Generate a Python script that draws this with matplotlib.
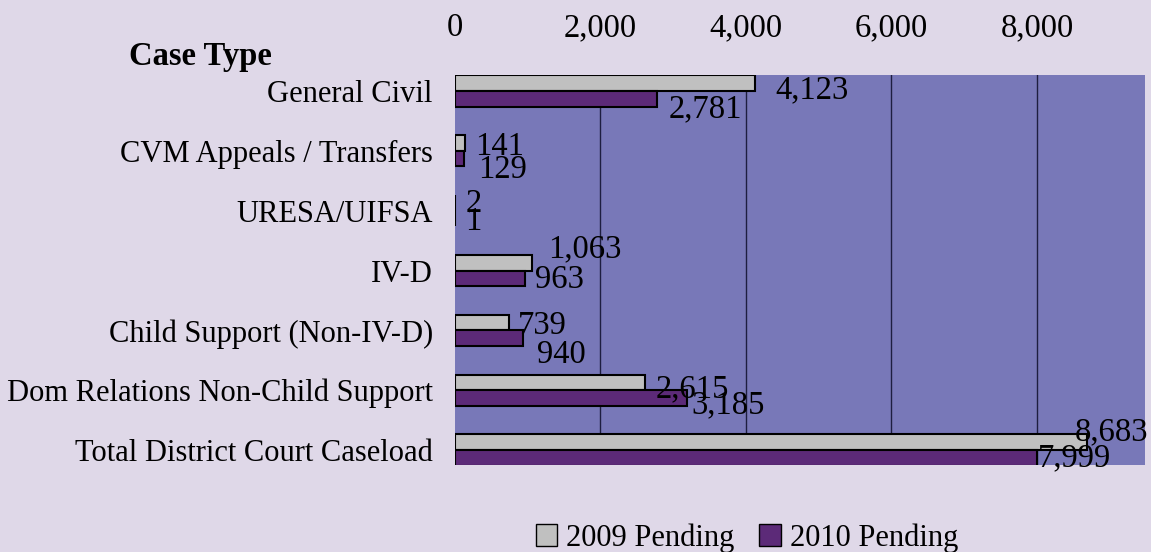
import matplotlib
matplotlib.use("Agg")
import matplotlib.pyplot as plt
from matplotlib.patches import Patch
import numpy as np

categories = ["General Civil", "CVM Appeals / Transfers", "URESA/UIFSA", "IV-D",
              "Child Support (Non-IV-D)", "Dom Relations Non-Child Support",
              "Total District Court Caseload"]
pending_2009 = [4123, 141, 2, 1063, 739, 2615, 8683]
pending_2010 = [2781, 129, 1, 963, 940, 3185, 7999]
series_names = ["2009 Pending", "2010 Pending"]
x_ticks = [0, 2000, 4000, 6000, 8000]

# label offsets (pixels: dx right, dy down) -- styling only
off_2009 = [(20, 3), (10, 0), (10, -3), (16, -17), (9, 0), (10, 3), (-12, -14)]
off_2010 = [(11, 7), (14, 8), (10, 0), (10, -2), (14, 13), (5, 4), (1, -3)]

plt.rcParams['font.family'] = ['Liberation Serif', 'DejaVu Serif']
FS_NUM = 23.5
FS_CAT = 22

BG = '#DFD8E8'
PLOT_BG = '#7878B8'
GRAY = '#C0C0C0'
PURPLE = '#5C2A78'

fig = plt.figure(figsize=(11.51, 5.52), dpi=100, facecolor=BG)
ax = fig.add_axes([455/1151, 1-465/552, 690/1151, 390/552])
ax.set_facecolor(PLOT_BG)

y = np.arange(len(categories))
h = 0.26
ax.barh(y - h/2, pending_2009, height=h, color=GRAY, edgecolor='black', linewidth=1.5, zorder=3)
ax.barh(y + h/2, pending_2010, height=h, color=PURPLE, edgecolor='black', linewidth=1.5, zorder=3)

for i, v in enumerate(pending_2009):
    dx, dy = off_2009[i]
    ax.annotate(f"{v:,}", xy=(v, y[i] - h/2), xytext=(dx, -dy), textcoords='offset pixels',
                ha='left', va='center_baseline', fontsize=FS_NUM, color='black', zorder=4)
for i, v in enumerate(pending_2010):
    dx, dy = off_2010[i]
    ax.annotate(f"{v:,}", xy=(v, y[i] + h/2), xytext=(dx, -dy), textcoords='offset pixels',
                ha='left', va='center_baseline', fontsize=FS_NUM, color='black', zorder=4)

ax.set_xlim(0, 9485)
ax.set_ylim(6.25, -0.267)
ax.xaxis.tick_top()
ax.set_xticks(x_ticks)
ax.set_xticklabels([f"{t:,}" for t in x_ticks], fontsize=FS_NUM)
ax.set_yticks(y)
ax.set_yticklabels(categories, fontsize=FS_CAT)
ax.tick_params(axis='x', length=0, pad=23)
ax.tick_params(axis='y', length=0, pad=16)
for s in ax.spines.values():
    s.set_visible(False)
for gx in x_ticks[1:]:
    ax.axvline(gx, color='#1E1E40', linewidth=1, zorder=1)

fig.text(200/1151, 1-56/552, "Case Type", ha='center', va='center', fontsize=FS_NUM, fontweight='bold')

handles = [Patch(facecolor=GRAY, edgecolor='black', linewidth=1),
           Patch(facecolor=PURPLE, edgecolor='black', linewidth=1)]
fig.legend(handles, series_names, loc='center', bbox_to_anchor=(747/1151, 1-538/552),
           ncol=2, frameon=False, fontsize=FS_CAT, handlelength=0.7, handleheight=0.7,
           handletextpad=0.3, columnspacing=0.8)

fig.savefig("out.png", dpi=100, facecolor=BG)
